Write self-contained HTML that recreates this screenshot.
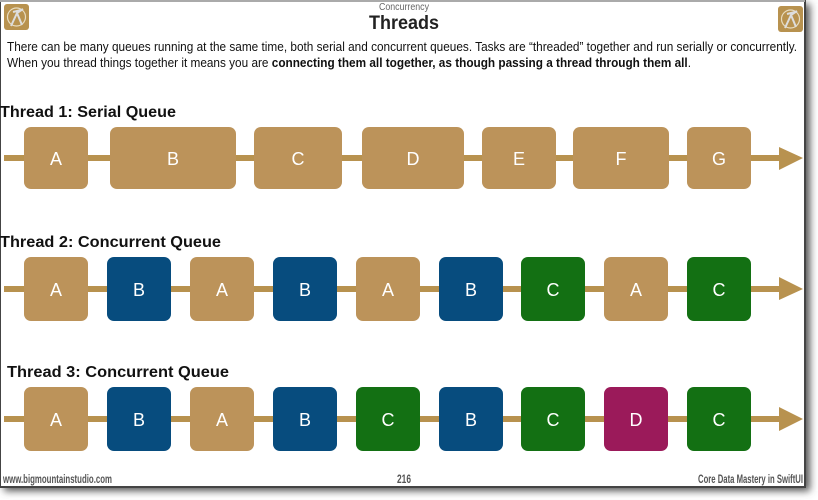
<!DOCTYPE html>
<html><head><meta charset="utf-8"><style>
html,body{margin:0;padding:0;background:#fff;width:818px;height:500px;overflow:hidden}
svg{display:block;font-family:"Liberation Sans",sans-serif}
</style></head><body>
<svg width="818" height="500" viewBox="0 0 818 500" xmlns="http://www.w3.org/2000/svg">
<defs>
<filter id="sh" x="-5%" y="-5%" width="115%" height="115%"><feGaussianBlur stdDeviation="4"/></filter>
<g id="icon">
<rect x="0" y="0" width="25" height="26" rx="3" fill="#b8924f"/>
<circle cx="12.5" cy="13" r="9" fill="none" stroke="#e8dcc0" stroke-width="1.2"/>
<path d="M7 22 L13 9 L19 5 M13 9 L18 21 M9 8 L17 6" stroke="#ddd" stroke-width="2" fill="none"/>
</g>
</defs>
<rect x="4" y="4" width="806" height="487" fill="#555" filter="url(#sh)"/>
<rect x="0" y="0" width="805" height="487" fill="#fff" stroke="#444" stroke-width="2"/>
<rect x="0" y="0" width="805" height="2" fill="#aaa"/>
<use href="#icon" x="4" y="4"/>
<use href="#icon" x="778" y="6"/>
<text x="404" y="10" font-size="10" fill="#666" text-anchor="middle" textLength="50" lengthAdjust="spacingAndGlyphs">Concurrency</text>
<text x="404" y="29" font-size="19" font-weight="bold" fill="#222" text-anchor="middle" textLength="70" lengthAdjust="spacingAndGlyphs">Threads</text>
<text x="7" y="51" font-size="12.5" fill="#111" textLength="790" lengthAdjust="spacingAndGlyphs">There can be many queues running at the same time, both serial and concurrent queues. Tasks are “threaded” together and run serially or concurrently.</text>
<text x="7" y="67" font-size="12.5" fill="#111" textLength="684" lengthAdjust="spacingAndGlyphs">When you thread things together it means you are <tspan font-weight="bold">connecting them all together, as though passing a thread through them all</tspan>.</text>
<text x="0" y="117" font-size="16" font-weight="bold" fill="#111" textLength="176" lengthAdjust="spacingAndGlyphs">Thread 1: Serial Queue</text>
<text x="0" y="247" font-size="16" font-weight="bold" fill="#111" textLength="221" lengthAdjust="spacingAndGlyphs">Thread 2: Concurrent Queue</text>
<text x="7" y="377" font-size="16" font-weight="bold" fill="#111" textLength="222" lengthAdjust="spacingAndGlyphs">Thread 3: Concurrent Queue</text>
<g fill="#b8924f">
<rect x="4" y="155" width="778" height="6"/><polygon points="779,147 803,158 779,170"/>
<rect x="4" y="286" width="778" height="6"/><polygon points="779,277 803,289 779,300"/>
<rect x="4" y="416" width="778" height="6"/><polygon points="779,407 803,419 779,431"/>
</g>
<g font-size="18" fill="#fff" text-anchor="middle">
<g fill="#bc935a">
<rect x="24" y="127" width="64" height="62" rx="7"/><rect x="110" y="127" width="126" height="62" rx="7"/>
<rect x="254" y="127" width="88" height="62" rx="7"/><rect x="362" y="127" width="102" height="62" rx="7"/>
<rect x="482" y="127" width="74" height="62" rx="7"/><rect x="573" y="127" width="96" height="62" rx="7"/>
<rect x="687" y="127" width="64" height="62" rx="7"/>
<rect x="24" y="257" width="64" height="64" rx="7"/><rect x="190" y="257" width="64" height="64" rx="7"/>
<rect x="356" y="257" width="64" height="64" rx="7"/><rect x="604" y="257" width="64" height="64" rx="7"/>
<rect x="24" y="387" width="64" height="64" rx="7"/><rect x="190" y="387" width="64" height="64" rx="7"/>
</g>
<g fill="#074c7e">
<rect x="107" y="257" width="64" height="64" rx="7"/><rect x="273" y="257" width="64" height="64" rx="7"/>
<rect x="439" y="257" width="64" height="64" rx="7"/>
<rect x="107" y="387" width="64" height="64" rx="7"/><rect x="273" y="387" width="64" height="64" rx="7"/>
<rect x="439" y="387" width="64" height="64" rx="7"/>
</g>
<g fill="#137013">
<rect x="521" y="257" width="64" height="64" rx="7"/><rect x="687" y="257" width="64" height="64" rx="7"/>
<rect x="356" y="387" width="64" height="64" rx="7"/><rect x="521" y="387" width="64" height="64" rx="7"/>
<rect x="687" y="387" width="64" height="64" rx="7"/>
</g>
<rect x="604" y="387" width="64" height="64" rx="7" fill="#9b1a5a"/>
<text x="56" y="165">A</text><text x="173" y="165">B</text><text x="298" y="165">C</text><text x="413" y="165">D</text><text x="519" y="165">E</text><text x="621" y="165">F</text><text x="719" y="165">G</text>
<text x="56" y="296">A</text><text x="139" y="296">B</text><text x="222" y="296">A</text><text x="305" y="296">B</text><text x="388" y="296">A</text><text x="471" y="296">B</text><text x="553" y="296">C</text><text x="636" y="296">A</text><text x="719" y="296">C</text>
<text x="56" y="426">A</text><text x="139" y="426">B</text><text x="222" y="426">A</text><text x="305" y="426">B</text><text x="388" y="426">C</text><text x="471" y="426">B</text><text x="553" y="426">C</text><text x="636" y="426">D</text><text x="719" y="426">C</text>
</g>
<g font-size="11.5" fill="#555" font-weight="bold">
<text x="3" y="483" textLength="109" lengthAdjust="spacingAndGlyphs">www.bigmountainstudio.com</text>
<text x="397" y="483" textLength="14" lengthAdjust="spacingAndGlyphs">216</text>
<text x="698" y="483" textLength="105" lengthAdjust="spacingAndGlyphs">Core Data Mastery in SwiftUI</text>
</g>
</svg>
</body></html>
